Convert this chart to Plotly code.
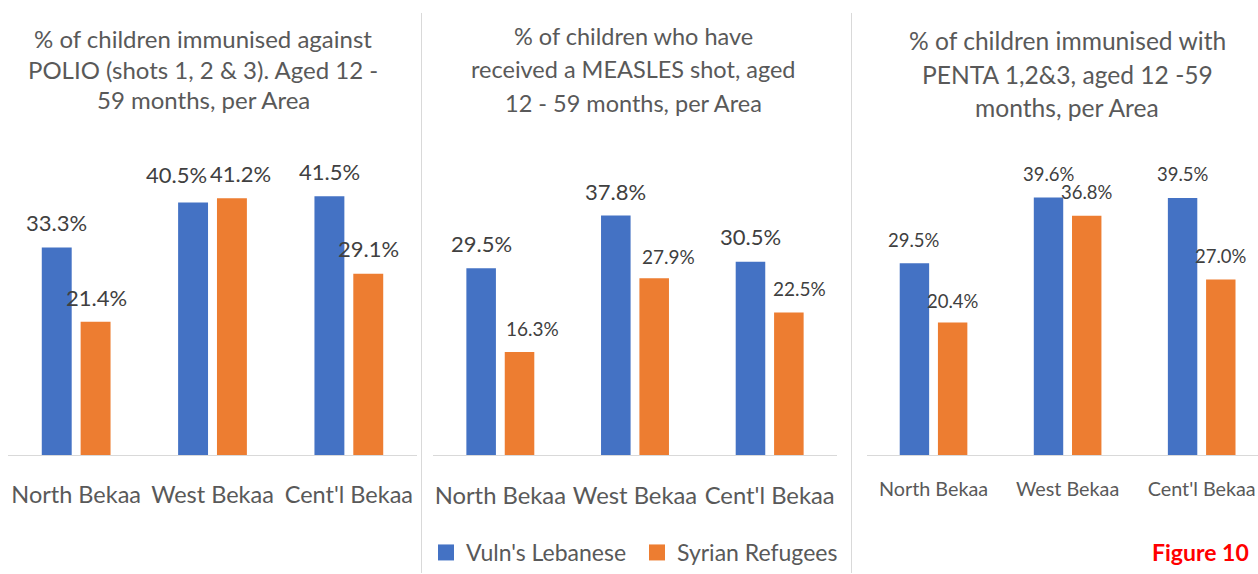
import plotly.graph_objects as go

# ---- data -------------------------------------------------------------
areas = ["North Bekaa", "West Bekaa", "Cent'l Bekaa"]
series_names = ["Vuln's Lebanese", "Syrian Refugees"]

polio_lebanese = [33.3, 40.5, 41.5]
polio_refugees = [21.4, 41.2, 29.1]

measles_lebanese = [29.5, 37.8, 30.5]
measles_refugees = [16.3, 27.9, 22.5]

penta_lebanese = [29.5, 39.6, 39.5]
penta_refugees = [20.4, 36.8, 27.0]

polio_title = ["% of children immunised against",
               "POLIO (shots 1, 2 & 3). Aged 12 -",
               "59 months, per Area"]
measles_title = ["% of children who have",
                 "received a MEASLES shot, aged",
                 "12 - 59 months, per Area"]
penta_title = ["% of children immunised with",
               "PENTA 1,2&3, aged 12 -59",
               "months, per Area"]

figure_label = "Figure 10"

# ---- styling ----------------------------------------------------------
W, H = 1258, 574
BLUE, ORANGE = "#4472C4", "#ED7D31"
GRID = "#D9D9D9"
TITLE_GREY = "#595959"
LABEL_GREY = "#404040"
FONT = "Lato, 'Noto Sans', sans-serif"
BARGAP, GROUPGAP = 0.43, 0.23
Y_MAX = 45


def fx(px):
    return px / W


def fy(py):
    return 1 - py / H


BASE_Y = 456  # pixel row of the category axis line

panels = [
    dict(lebanese=polio_lebanese, refugees=polio_refugees, title=polio_title,
         xdom=(8, 417), xrange=[-0.5, 2.5], scale=6.25,
         title_x=203, title_y=[39, 70, 100], title_size=24,
         tick_size=23.5, tick_standoff=19,
         label_size=[22, 22],
         label_dx=[[0, -16.5, 0.5], [0.5, 9, 0]],
         label_dy=[[25, 28, 25], [24, 25, 25]]),
    dict(lebanese=measles_lebanese, refugees=measles_refugees, title=measles_title,
         xdom=(433, 837), xrange=[-0.5, 2.5], scale=6.35,
         title_x=633, title_y=[36, 69, 103], title_size=23.5,
         tick_size=23.8, tick_standoff=19,
         label_size=[22, 19],
         label_dx=[[0, 0, 0], [12.5, 14.5, 10.5]],
         label_dy=[[25, 24, 25], [23, 22, 24]]),
    dict(lebanese=penta_lebanese, refugees=penta_refugees, title=penta_title,
         xdom=(866.5, 1258), xrange=[-0.5, 2.42], scale=6.52,
         title_x=1067, title_y=[41, 75, 108], title_size=24.6,
         tick_size=19.8, tick_standoff=16,
         label_size=[18.5, 18.5],
         label_dx=[[0, 0, 0], [0, 0, 0]],
         label_dy=[[23, 23, 24], [21, 24, 23]]),
]

fig = go.Figure()
annotations = []
layout_axes = {}

bar_offset = (1 - BARGAP) / 4  # centre of each bar relative to its category

for i, p in enumerate(panels, start=1):
    xa = "x" if i == 1 else f"x{i}"
    ya = "y" if i == 1 else f"y{i}"
    for k, (name, vals, color) in enumerate(zip(series_names,
                                                 [p["lebanese"], p["refugees"]],
                                                 [BLUE, ORANGE])):
        fig.add_trace(go.Bar(
            x=areas, y=vals, name=name, marker_color=color,
            marker_line_width=0, xaxis=xa, yaxis=ya,
            showlegend=False, legendgroup=name,
        ))
        # value labels above each bar
        for j, v in enumerate(vals):
            annotations.append(dict(
                x=j + (-bar_offset if k == 0 else bar_offset), y=v,
                xref=xa, yref=ya, text=f"{v:.1f}%", showarrow=False,
                xanchor="center", yanchor="middle",
                xshift=p["label_dx"][k][j], yshift=p["label_dy"][k][j],
                font=dict(family=FONT, size=p["label_size"][k], color=LABEL_GREY),
            ))

    top_px = BASE_Y - p["scale"] * Y_MAX
    suffix = "" if i == 1 else str(i)
    layout_axes[f"xaxis{suffix}"] = dict(
        domain=[fx(p["xdom"][0]), min(1, fx(p["xdom"][1]))],
        anchor=ya, range=p["xrange"], type="category",
        showline=True, linecolor=GRID, linewidth=1,
        showgrid=False, zeroline=False, ticks="",
        ticklabelstandoff=p["tick_standoff"],
        tickfont=dict(family=FONT, size=p["tick_size"], color=TITLE_GREY),
        fixedrange=True,
    )
    layout_axes[f"yaxis{suffix}"] = dict(
        domain=[fy(BASE_Y), fy(top_px)], anchor=xa, range=[0, Y_MAX],
        visible=False, fixedrange=True,
    )
    # panel title, one annotation per line
    for line, ty in zip(p["title"], p["title_y"]):
        annotations.append(dict(
            x=fx(p["title_x"]), y=fy(ty), xref="paper", yref="paper",
            text=line, showarrow=False, xanchor="center", yanchor="middle",
            font=dict(family=FONT, size=p["title_size"], color=TITLE_GREY),
        ))

# legend keys: square markers shared by all three panels
for name, color in zip(series_names, [BLUE, ORANGE]):
    fig.add_trace(go.Scatter(
        x=[None], y=[None], mode="markers", name=name, legendgroup=name,
        marker=dict(symbol="square", size=16, color=color),
        xaxis="x2", yaxis="y2", showlegend=True, hoverinfo="skip",
    ))

annotations.append(dict(
    x=fx(1200), y=fy(553), xref="paper", yref="paper", text=f"<b>{figure_label}</b>",
    showarrow=False, xanchor="center", yanchor="middle",
    font=dict(family=FONT, size=23, color="#FF0000"),
))

# thin separators between panels
shapes = [
    dict(type="line", xref="paper", yref="paper", x0=fx(sx), x1=fx(sx),
         y0=0, y1=fy(13), line=dict(color=GRID, width=1))
    for sx in (421.5, 851.5)
]

fig.update_layout(
    width=W, height=H, margin=dict(l=0, r=0, t=0, b=0),
    paper_bgcolor="white", plot_bgcolor="white",
    barmode="group", bargap=BARGAP, bargroupgap=GROUPGAP,
    annotations=annotations, shapes=shapes,
    legend=dict(orientation="h", x=fx(426), xanchor="left", y=fy(553),
                yanchor="middle", font=dict(family=FONT, size=23, color=TITLE_GREY),
                entrywidth=166, entrywidthmode="pixels", itemsizing="trace",
                bgcolor="rgba(0,0,0,0)", borderwidth=0),
    **layout_axes,
)

fig.write_html("out.html")
